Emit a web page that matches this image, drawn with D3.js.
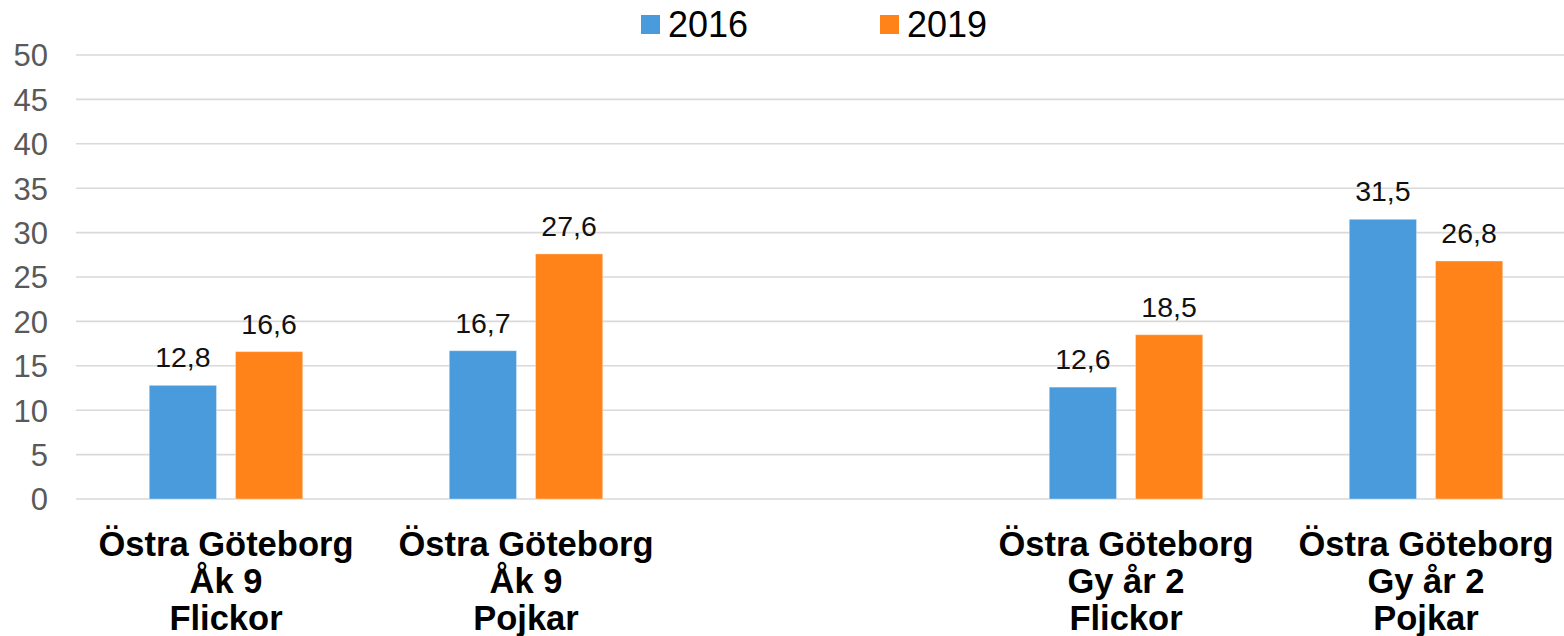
<!DOCTYPE html>
<html>
<head>
<meta charset="utf-8">
<script src="https://cdn.jsdelivr.net/npm/d3@7"></script>
<style>
  body { margin: 0; background: #fff; }
  text { font-family: "Liberation Sans", Arial, sans-serif; }
</style>
</head>
<body>
<script>
//data
var categories = ["g1", "g2", "gap", "g3", "g4"];
var catLabels = [
  ["Östra Göteborg", "Åk 9", "Flickor"],
  ["Östra Göteborg", "Åk 9", "Pojkar"],
  [],
  ["Östra Göteborg", "Gy år 2", "Flickor"],
  ["Östra Göteborg", "Gy år 2", "Pojkar"]
];
var years = ["2016", "2019"];
var values2016 = [12.8, 16.7, null, 12.6, 31.5];
var values2019 = [16.6, 27.6, null, 18.5, 26.8];
var yTicks = [0, 5, 10, 15, 20, 25, 30, 35, 40, 45, 50];

//sizes
var width = 1564,
    height = 636;

var colors = { "2016": "#4a9bdc", "2019": "#ff8319" };

var svg = d3.select("body").append("svg")
    .attr("width", width)
    .attr("height", height);

//scales
var x0 = d3.scaleBand()
    .domain(categories)
    .range([76, 1576])
    .padding(0);

var x1 = d3.scaleBand()
    .domain(years)
    .range([0, x0.bandwidth()])
    .paddingInner(0.22)
    .paddingOuter(0.85);

var y = d3.scaleLinear()
    .domain([0, 50])
    .range([499, 55]);

//gridlines
svg.append("g")
    .selectAll("line")
    .data(yTicks)
    .enter().append("line")
    .attr("x1", 76)
    .attr("x2", width)
    .attr("y1", function(d) { return y(d); })
    .attr("y2", function(d) { return y(d); })
    .style("stroke", "#d9d9d9")
    .style("stroke-width", 1.6);

//y tick labels
svg.append("g")
    .selectAll("text")
    .data(yTicks)
    .enter().append("text")
    .attr("x", 48)
    .attr("y", function(d) { return y(d); })
    .attr("dy", "0.37em")
    .attr("text-anchor", "end")
    .style("font-size", "31px")
    .style("fill", "#595959")
    .text(function(d) { return d; });

//build rows for the bars
var rows = [];
categories.forEach(function(c, i) {
  if (values2016[i] != null) rows.push({ cat: c, year: "2016", value: values2016[i] });
  if (values2019[i] != null) rows.push({ cat: c, year: "2019", value: values2019[i] });
});

var bars = svg.append("g")
    .selectAll("g")
    .data(rows)
    .enter().append("g")
    .attr("transform", function(d) { return "translate(" + (x0(d.cat) + x1(d.year)) + ",0)"; });

bars.append("rect")
    .attr("x", 0)
    .attr("y", function(d) { return y(d.value); })
    .attr("width", x1.bandwidth())
    .attr("height", function(d) { return y(0) - y(d.value); })
    .style("fill", function(d) { return colors[d.year]; })
    .style("stroke", "rgba(255,255,255,0.35)")
    .style("stroke-width", 1);

bars.append("text")
    .attr("x", x1.bandwidth() / 2)
    .attr("y", function(d) { return y(d.value) - 18; })
    .attr("text-anchor", "middle")
    .style("font-size", "28.5px")
    .style("fill", "#111")
    .text(function(d) { return String(d.value.toFixed(1)).replace(".", ","); });

//category labels
var catG = svg.append("g")
    .selectAll("text")
    .data(categories)
    .enter().append("text")
    .attr("text-anchor", "middle")
    .style("font-size", "34.5px")
    .style("font-weight", "bold")
    .style("fill", "#000");

catG.selectAll("tspan")
    .data(function(d, i) {
      return catLabels[i].map(function(t) { return { t: t, cx: x0(d) + x0.bandwidth() / 2 }; });
    })
    .enter().append("tspan")
    .attr("x", function(d) { return d.cx; })
    .attr("y", function(d, j) { return 556 + j * 37; })
    .text(function(d) { return d.t; });

//legend
var legendX = { "2016": 641, "2019": 880 };
var legend = svg.append("g")
    .selectAll("g")
    .data(years)
    .enter().append("g")
    .attr("transform", function(d) { return "translate(" + legendX[d] + ",15)"; });

legend.append("rect")
    .attr("width", 19)
    .attr("height", 19)
    .style("fill", function(d) { return colors[d]; });

legend.append("text")
    .attr("x", 27)
    .attr("y", 22)
    .style("font-size", "36px")
    .style("fill", "#000")
    .text(function(d) { return d; });
</script>
</body>
</html>
